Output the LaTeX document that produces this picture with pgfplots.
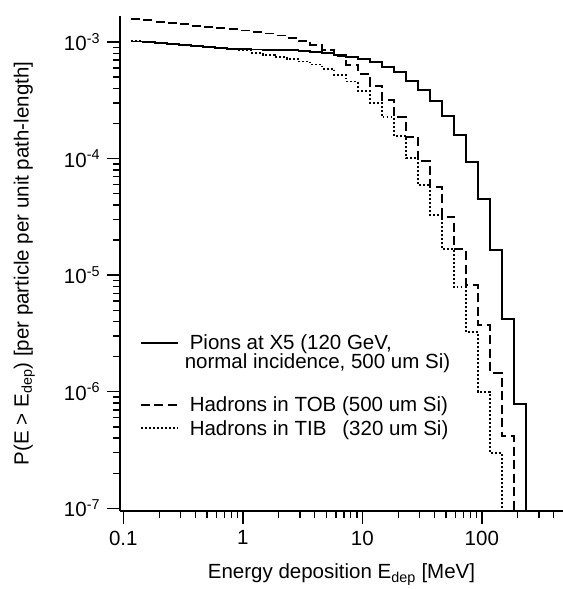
\documentclass[border=0pt]{standalone}
\usepackage{fontspec}
\setmainfont{Liberation Sans}
\usepackage{pgfplots}
\pgfplotsset{compat=1.18}
\pgfplotsset{myleg/.style={legend image code/.code={\draw[##1] (0bp,7bp) -- (37bp,7bp);}}}
\pgfplotstableread{
E v
0.1164 1.010e-3
0.1466 9.92e-4
0.1845 9.75e-4
0.2323 9.56e-4
0.2924 9.35e-4
0.3681 9.17e-4
0.4634 8.99e-4
0.5834 8.85e-4
0.7345 8.74e-4
0.9247 8.68e-4
1.164 8.62e-4
1.466 8.57e-4
1.845 8.52e-4
2.323 8.46e-4
2.924 8.37e-4
3.681 8.24e-4
4.634 8.05e-4
5.834 7.78e-4
7.345 7.45e-4
9.247 7.11e-4
11.64 6.70e-4
14.66 6.14e-4
18.45 5.50e-4
23.23 4.66e-4
29.24 3.88e-4
36.81 3.12e-4
46.34 2.32e-4
58.34 1.59e-4
73.45 9.35e-5
92.47 4.50e-5
116.4 1.64e-5
146.6 4.19e-6
184.5 7.86e-7
232.3 7.86e-7
232.3 1e-9
}\pions
\pgfplotstableread{
E v
0.1164 1.575e-3
0.1466 1.535e-3
0.1845 1.496e-3
0.2323 1.458e-3
0.2924 1.421e-3
0.3681 1.383e-3
0.4634 1.348e-3
0.5834 1.313e-3
0.7345 1.285e-3
0.9247 1.255e-3
1.164 1.219e-3
1.466 1.183e-3
1.845 1.137e-3
2.323 1.082e-3
2.924 1.020e-3
3.681 9.43e-4
4.634 8.59e-4
5.834 7.59e-4
7.345 6.39e-4
9.247 5.35e-4
11.64 4.20e-4
14.66 3.18e-4
18.45 2.26e-4
23.23 1.54e-4
29.24 9.59e-5
36.81 5.74e-5
46.34 3.18e-5
58.34 1.67e-5
73.45 8.24e-6
92.47 3.74e-6
116.4 1.46e-6
146.6 4.18e-7
184.5 4.18e-7
184.5 1e-9
}\tob
\pgfplotstableread{
E v
0.1164 1.024e-3
0.1466 1.004e-3
0.1845 9.75e-4
0.2323 9.56e-4
0.2924 9.35e-4
0.3681 9.17e-4
0.4634 8.99e-4
0.5834 8.85e-4
0.7345 8.74e-4
0.9247 8.54e-4
1.164 8.05e-4
1.466 7.74e-4
1.845 7.44e-4
2.323 7.15e-4
2.924 6.80e-4
3.681 6.41e-4
4.634 5.87e-4
5.834 5.23e-4
7.345 4.58e-4
9.247 3.82e-4
11.64 3.02e-4
14.66 2.26e-4
18.45 1.56e-4
23.23 1.006e-4
29.24 5.94e-5
36.81 3.28e-5
46.34 1.67e-5
58.34 7.87e-6
73.45 3.24e-6
92.47 1.00e-6
116.4 3.00e-7
146.6 3.00e-7
146.6 1e-9
}\tib
\begin{document}
\fontsize{20.5bp}{24bp}\selectfont
\begin{tikzpicture}
\begin{axis}[
  scale only axis, width=443bp, height=494.7bp,
  xmode=log, ymode=log,
  xmin=0.0938, xmax=478, ymin=0.955e-7, ymax=1.67e-3,
  axis lines*=left,
  axis line style={-, line width=1.6bp},
  tick align=outside,
  major tick length=13bp, minor tick length=7bp,
  every tick/.style={line width=1.4bp, black},
  xtick={0.1,1,10,100}, xticklabels={0.1,1,10,100},
  minor xtick={0.2,0.3,0.4,0.5,0.6,0.7,0.8,0.9,2,3,4,5,6,7,8,9,20,30,40,50,60,70,80,90,200,300,400},
  ytick={1e-7,1e-6,1e-5,1e-4,1e-3},
  yticklabels={10\textsuperscript{-7},10\textsuperscript{-6},10\textsuperscript{-5},10\textsuperscript{-4},10\textsuperscript{-3}},
  minor ytick={2e-7,3e-7,4e-7,5e-7,6e-7,7e-7,8e-7,9e-7,2e-6,3e-6,4e-6,5e-6,6e-6,7e-6,8e-6,9e-6,2e-5,3e-5,4e-5,5e-5,6e-5,7e-5,8e-5,9e-5,2e-4,3e-4,4e-4,5e-4,6e-4,7e-4,8e-4,9e-4},
  xlabel={Energy deposition E\textsubscript{dep} [MeV]},
  ylabel={P(E > E\textsubscript{dep}) [per particle per unit path-length]},
  xlabel style={at={(axis description cs:0.5,-0.138)}, anchor=base},
  ylabel style={at={(axis description cs:-0.2065,0.5)}, anchor=base},
  legend style={at={(rel axis cs:0.0451,0.3557)}, anchor=north west, draw=none, fill=none,
    inner sep=0pt, outer sep=0pt, row sep=0pt, column sep=11bp,
    nodes={inner sep=0pt, text depth=, text height=}, cells={anchor=base west}},
]
\addplot[const plot mark left, black, line width=1.9bp, forget plot] table[x=E,y=v] {\pions};
\addplot[const plot mark left, black, line width=1.9bp, dash pattern=on 9bp off 4.5bp, forget plot] table[x=E,y=v] {\tob};
\addplot[const plot mark left, black, line width=1.9bp, dash pattern=on 1.8bp off 2.2bp, forget plot] table[x=E,y=v] {\tib};

\addlegendimage{black, line width=1.8bp, myleg}
\addlegendentry{\smash{Pions at X5 (120 GeV,}\rule[-4bp]{0pt}{19bp}}
\addlegendimage{empty legend}
\addlegendentry{\hspace*{-5bp}\smash{normal incidence, 500 um Si)}\rule[-28bp]{0pt}{43bp}}
\addlegendimage{black, line width=1.8bp, dash pattern=on 9bp off 4.5bp, myleg}
\addlegendentry{\smash{Hadrons in TOB (500 um Si)}\rule[-8.3bp]{0pt}{23.3bp}}
\addlegendimage{black, line width=1.8bp, dash pattern=on 1.8bp off 2.2bp, myleg}
\addlegendentry{\smash{Hadrons in TIB\hspace{0.5em} (320 um Si)}\rule[-5bp]{0pt}{20bp}}
\end{axis}
\pgfresetboundingbox
\path ([shift={(-120bp,-78.3bp)}]current axis.south west) rectangle ([yshift=16bp]current axis.north east);
\end{tikzpicture}
\end{document}
